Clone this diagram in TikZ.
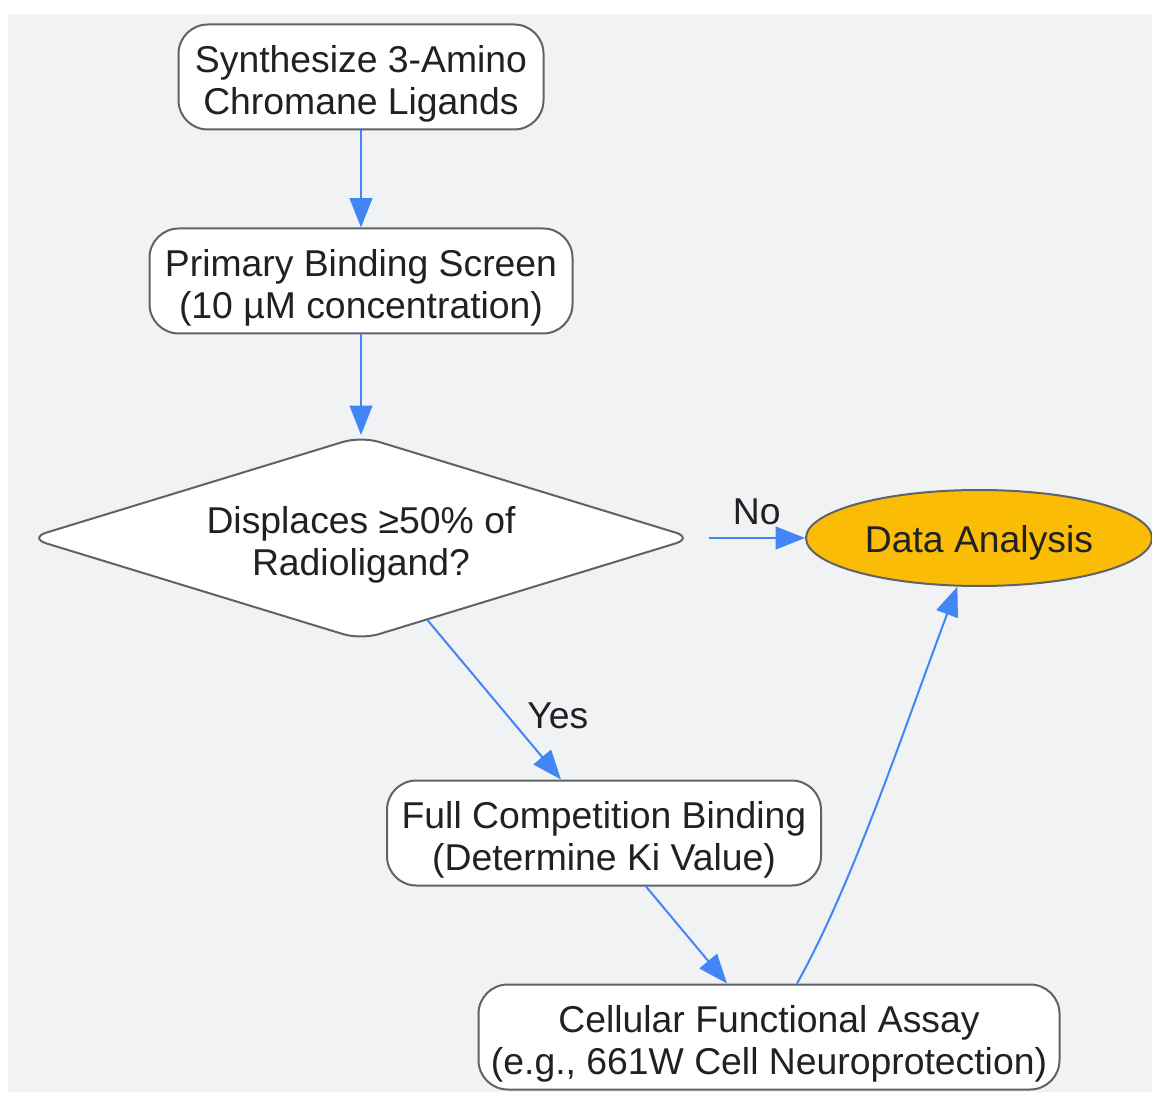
\documentclass[tikz,border=0pt]{standalone}
\usepackage{fontspec}
\setmainfont{Liberation Sans}
\usetikzlibrary{shapes.geometric}
\usetikzlibrary{arrows.meta}
\definecolor{bgGray}{HTML}{F1F2F4}
\definecolor{edgeBlue}{HTML}{4285F4}
\definecolor{borderGray}{HTML}{5F6368}
\definecolor{dataGold}{HTML}{FBBC05}
\definecolor{inkDark}{HTML}{202124}

\begin{document}
\begin{tikzpicture}[
        x = 0.75pt,
        y = -0.75pt,
        every node/.append style={
          font = \fontsize{28}{31.5}\selectfont,
          text = inkDark,
        },
        text drop/.style={
          execute at begin node = {\rule{0pt}{#1}},
        },
        process box/.style={
          draw = borderGray,
          line width = 1.5pt,
          fill = white,
          rounded corners = 22pt,
          align = center,
          minimum height = 78.75pt,
          inner sep = 0pt,
          text drop = 62.5pt,
        },
        decision box/.style={
          diamond,
          aspect = 3.26,
          draw = borderGray,
          line width = 1.5pt,
          fill = white,
          rounded corners = 14pt,
          align = center,
          minimum width = 499pt,
          minimum height = 153pt,
          inner sep = 0pt,
          text drop = 62.5pt,
        },
        result/.style={
          ellipse,
          draw = borderGray,
          line width = 1.5pt,
          fill = dataGold,
          minimum width = 259.5pt,
          minimum height = 72pt,
          inner sep = 0pt,
          text drop = 28pt,
        },
        flow/.style={
          draw = edgeBlue,
          line width = 1.5pt,
          -{Triangle[length = 22pt, width = 17pt]},
        },
        edge label/.style={
          inner sep = 0pt,
        },
        ]
        \useasboundingbox (0,0) rectangle (1152,1094);
        \fill [bgGray] (8,14) rectangle (1152,1092);

        \node [process box, minimum width = 273.75pt] (synth) at (361,77)
          {Synthesize 3-Amino\\Chromane Ligands};
        \node [process box, minimum width = 317.25pt] (screen) at (361,281)
          {Primary Binding Screen\\(10 µM concentration)};
        \node [decision box] (displace) at (361,538)
          {Displaces ≥50\% of\\Radioligand?};
        \node [result] (analysis) at (979,538) {Data Analysis};
        \node [process box, minimum width = 325.5pt] (competition) at (604,833)
          {Full Competition Binding\\(Determine Ki Value)};
        \node [process box, minimum width = 435.75pt] (functional) at (769,1037)
          {Cellular Functional Assay\\(e.g., 661W Cell Neuroprotection)};

        \draw [flow] (synth) -- (screen);
        \draw [flow] (screen) -- (displace);
        \draw [flow] ([xshift = 10.5pt]displace.east) --
          node [edge label, above = 9pt] {No} (analysis.west);
        \draw [flow] (displace.-51) --
          node [edge label, pos = 0.58, right = 16pt, yshift = -2.25pt] {Yes} ([xshift = -32.25pt]competition.north);
        \draw [flow] ([xshift = 31.5pt]competition.south) -- ([xshift = -31.5pt]functional.north);
        \draw [flow] ([xshift = 21pt]functional.north)
          .. controls (852,885) and (900,740) .. (analysis.246);
      \end{tikzpicture}
\end{document}
